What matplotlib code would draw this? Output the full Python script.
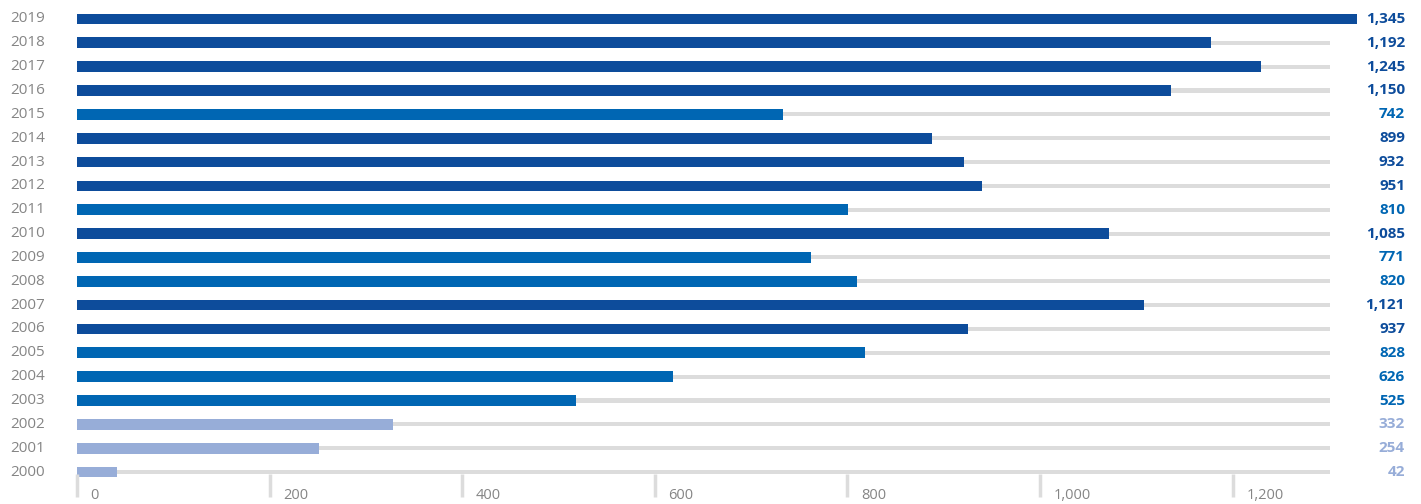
import matplotlib
matplotlib.use("Agg")
import matplotlib.pyplot as plt
import matplotlib.transforms as mtransforms

plt.rcParams['font.family'] = ['Open Sans', 'DejaVu Sans']

# data
years = [2000, 2001, 2002, 2003, 2004, 2005, 2006, 2007, 2008, 2009,
         2010, 2011, 2012, 2013, 2014, 2015, 2016, 2017, 2018, 2019]
values = [42, 254, 332, 525, 626, 828, 937, 1121, 820, 771,
          1085, 810, 951, 932, 899, 742, 1150, 1245, 1192, 1345]
ticks = [0, 200, 400, 600, 800, 1000, 1200]
tick_labels = ["0", "200", "400", "600", "800", "1,000", "1,200"]

dark = "#0d4c9b"
mid = "#0066b3"
light = "#97add8"
track = "#dcdcdc"
gray_text = "#858585"


def bar_color(v):
    if v < 500:
        return light
    if v < 850:
        return mid
    return dark


W, H = 1421, 504
fig = plt.figure(figsize=(W / 100, H / 100), dpi=100)
left, right = 77, 1330
top, bottom = 7, 484
rect = [left / W, 1 - bottom / H, (right - left) / W, (bottom - top) / H]
ax = fig.add_axes(rect)

xmax = 1317
pos = list(range(len(years)))
colors = [bar_color(v) for v in values]

ax.barh(pos, [xmax] * len(pos), height=0.17, color=track, zorder=1)
ax.barh(pos, values, height=0.45, color=colors, zorder=2, clip_on=False)

ax.set_xlim(0, xmax)
ax.set_ylim(-0.5, len(years) - 0.5)
ax.axis("off")

# year labels and value labels
trans = mtransforms.blended_transform_factory(fig.transFigure, ax.transData)
for p, y, v, c in zip(pos, years, values, colors):
    ax.text(45 / W, p, str(y), transform=trans, ha="right", va="center",
            fontsize=11, color=gray_text)
    ax.text(1405 / W, p, f"{v:,}", transform=trans, ha="right", va="center",
            fontsize=11, fontweight="bold", color=c)

# scale axis below the last row (its own, slightly wider scale)
tax = fig.add_axes(rect, frameon=False)
tax.set_xlim(0, 1301)
tax.set_ylim(0, 1)
tax.axis("off")
for t, lab in zip(ticks, tick_labels):
    tax.plot([t, t], [0.02, -0.028], color=track, lw=2.5,
             clip_on=False, solid_capstyle="butt")
    tax.text(t + 14, -0.025, lab, ha="left", va="center",
             fontsize=10.5, color=gray_text)

fig.savefig("out.png", dpi=100)
